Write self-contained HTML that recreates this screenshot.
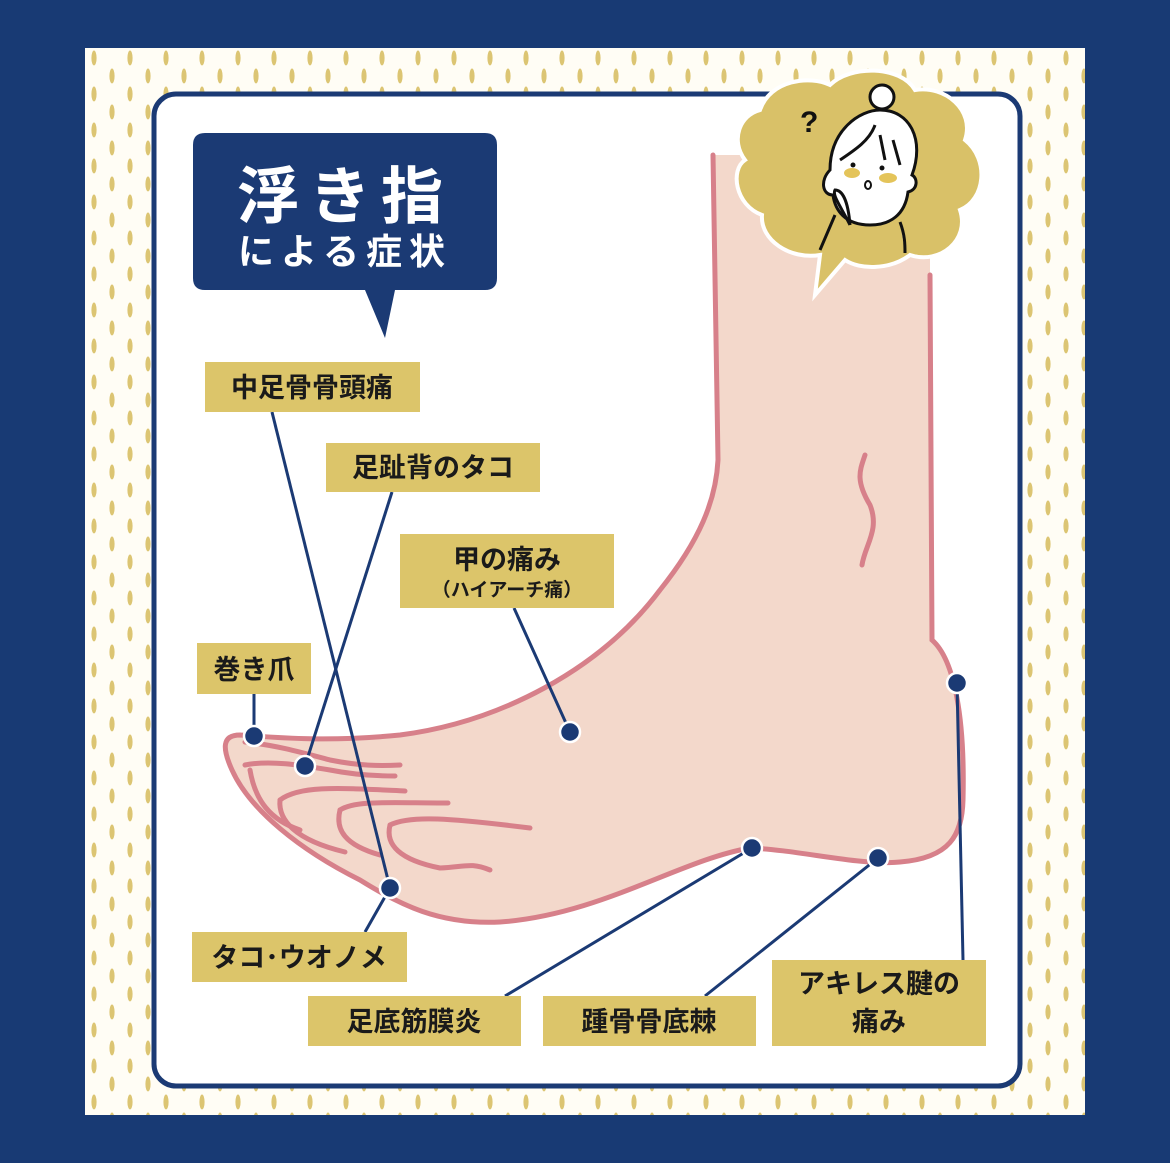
<!DOCTYPE html>
<html><head><meta charset="utf-8"><style>
html,body{margin:0;padding:0;width:1170px;height:1163px;overflow:hidden;background:#183a74;}
svg{display:block}
text{font-family:"Liberation Sans","Noto Sans CJK JP",sans-serif;font-weight:bold;}
</style></head><body>
<svg width="1170" height="1163" viewBox="0 0 1170 1163" xmlns="http://www.w3.org/2000/svg">
<defs>
<pattern id="dots" x="85" y="48" width="36" height="36" patternUnits="userSpaceOnUse">
<ellipse cx="9" cy="10" rx="2.6" ry="7.5" fill="#dcc573"/>
<ellipse cx="27" cy="28" rx="2.6" ry="7.5" fill="#dcc573"/>
<ellipse cx="27" cy="-8" rx="2.6" ry="7.5" fill="#dcc573"/>
</pattern>
</defs>
<rect x="0" y="0" width="1170" height="1163" fill="#183a74"/>
<rect x="85" y="48" width="1000" height="1067" fill="#fffdf5"/>
<rect x="85" y="48" width="1000" height="1067" fill="url(#dots)"/>
<rect x="154" y="94" width="866" height="992" rx="22" fill="#fff" stroke="#1b3a74" stroke-width="5"/>

<!-- foot -->
<path d="M713,155 L930,155 L930,280 L932,640 C955,660 965,720 963,800 C962,835 950,858 900,862 C860,866 800,850 750,848 C680,860 600,915 500,922 C440,925 400,905 360,880 C300,850 250,810 232,770 C222,748 222,735 240,735 C280,738 330,742 400,735 C500,722 600,670 660,590 C700,540 716,500 718,460 Z" fill="#f3d8cb"/>
<g fill="none" stroke="#d7808a" stroke-width="5" stroke-linecap="round">
<path d="M713,155 L718,460 C716,500 700,540 660,590 C600,670 500,722 400,735 C330,742 280,738 240,735 C222,735 222,748 232,770 C250,810 300,850 360,880 C400,905 440,925 500,922 C600,915 680,860 750,848 C800,850 860,866 900,862 C950,858 962,835 963,800 C965,720 955,660 932,640 L930,275"/>
<path d="M245,742 C275,745 300,752 330,760 C360,766 380,766 400,765"/>
<path d="M245,765 C270,760 300,765 330,770 C350,774 370,776 395,776" />
<path d="M250,770 C255,800 270,820 300,830"/>
<path d="M280,800 C300,785 340,788 405,791"/>
<path d="M280,800 C278,820 295,840 345,852"/>
<path d="M340,810 C355,800 390,803 448,803"/>
<path d="M340,810 C335,830 345,845 380,855"/>
<path d="M390,825 C410,815 450,818 530,828"/>
<path d="M390,825 C385,845 400,860 440,868 C465,867 470,862 490,870"/>
<path d="M865,455 C860,470 855,480 870,505 C880,530 865,545 862,565"/>
</g>

<!-- thought cloud -->
<g>
<path d="M760,110 C770,80 810,75 830,85 C850,65 900,65 915,90 C945,85 975,110 965,140 C990,160 985,200 960,210 C970,240 940,265 910,255 C890,270 860,270 845,260 L815,295 L820,255 C790,260 760,240 762,215 C735,205 730,170 745,160 C730,140 740,115 760,110 Z" fill="#d9c168" stroke="#fff" stroke-width="4"/>
<circle cx="882" cy="97" r="12" fill="#fff" stroke="#111" stroke-width="3"/>
<path d="M830,170 C830,130 860,110 880,110 C910,110 925,140 912,175 C918,178 918,190 908,192 C905,215 890,225 870,225 C845,225 835,210 833,195 C822,195 820,180 830,170 Z" fill="#fff" stroke="#111" stroke-width="3"/>
<path d="M840,160 C855,150 870,140 875,125 M880,135 L885,160 M893,140 L900,165" fill="none" stroke="#111" stroke-width="3"/>
<ellipse cx="852" cy="173" rx="8" ry="5" fill="#e4c45a"/>
<ellipse cx="888" cy="178" rx="9" ry="5" fill="#e4c45a"/>
<circle cx="853" cy="165" r="2.5" fill="#111"/><circle cx="882" cy="168" r="2.5" fill="#111"/>
<ellipse cx="868" cy="185" rx="3" ry="4" fill="none" stroke="#111" stroke-width="2"/>
<path d="M820,250 L835,215 M900,222 C905,235 905,245 905,253 M850,225 C840,205 832,195 835,190 C842,190 848,200 850,225" fill="#fff" stroke="#111" stroke-width="3"/>
<text x="800" y="132" font-size="30" fill="#111" font-weight="normal">?</text>
</g>

<!-- title bubble -->
<path d="M205,133 L485,133 Q497,133 497,145 L497,278 Q497,290 485,290 L395,290 L385,338 L365,290 L205,290 Q193,290 193,278 L193,145 Q193,133 205,133 Z" fill="#1b3a74"/>
<text x="345" y="218" font-size="62" fill="#fff" text-anchor="middle" letter-spacing="10">浮き指</text>
<text x="345" y="264" font-size="36" fill="#fff" text-anchor="middle" letter-spacing="7">による症状</text>

<!-- connectors -->
<g stroke="#1b3a74" stroke-width="3" fill="none">
<line x1="272" y1="412" x2="390" y2="888"/>
<line x1="392" y1="492" x2="305" y2="766"/>
<line x1="514" y1="608" x2="570" y2="732"/>
<line x1="254" y1="694" x2="254" y2="736"/>
<line x1="365" y1="932" x2="390" y2="888"/>
<line x1="505" y1="996" x2="752" y2="848"/>
<line x1="705" y1="996" x2="878" y2="858"/>
<line x1="963" y1="960" x2="957" y2="683"/>
</g>
<g fill="#1b3a74" stroke="#fff" stroke-width="2.5">
<circle cx="254" cy="736" r="10"/><circle cx="305" cy="766" r="10"/><circle cx="570" cy="732" r="10"/>
<circle cx="390" cy="888" r="10"/><circle cx="752" cy="848" r="10"/><circle cx="878" cy="858" r="10"/><circle cx="957" cy="683" r="10"/>
</g>

<!-- labels -->
<g fill="#dcc56a">
<rect x="205" y="362" width="215" height="50"/>
<rect x="326" y="443" width="214" height="49"/>
<rect x="400" y="534" width="214" height="74"/>
<rect x="197" y="643" width="114" height="51"/>
<rect x="192" y="932" width="215" height="50"/>
<rect x="308" y="996" width="213" height="50"/>
<rect x="543" y="996" width="213" height="50"/>
<rect x="772" y="960" width="214" height="86"/>
</g>
<g font-size="27" fill="#1a1a1a" text-anchor="middle">
<text x="312" y="397">中足骨骨頭痛</text>
<text x="433" y="477">足趾背のタコ</text>
<text x="507" y="569">甲の痛み</text>
<text x="507" y="596" font-size="19">（ハイアーチ痛）</text>
<text x="254" y="679">巻き爪</text>
<text x="299" y="967">タコ･ウオノメ</text>
<text x="414" y="1031">足底筋膜炎</text>
<text x="649" y="1031">踵骨骨底棘</text>
<text x="879" y="993">アキレス腱の</text>
<text x="879" y="1031">痛み</text>
</g>
</svg>
</body></html>
